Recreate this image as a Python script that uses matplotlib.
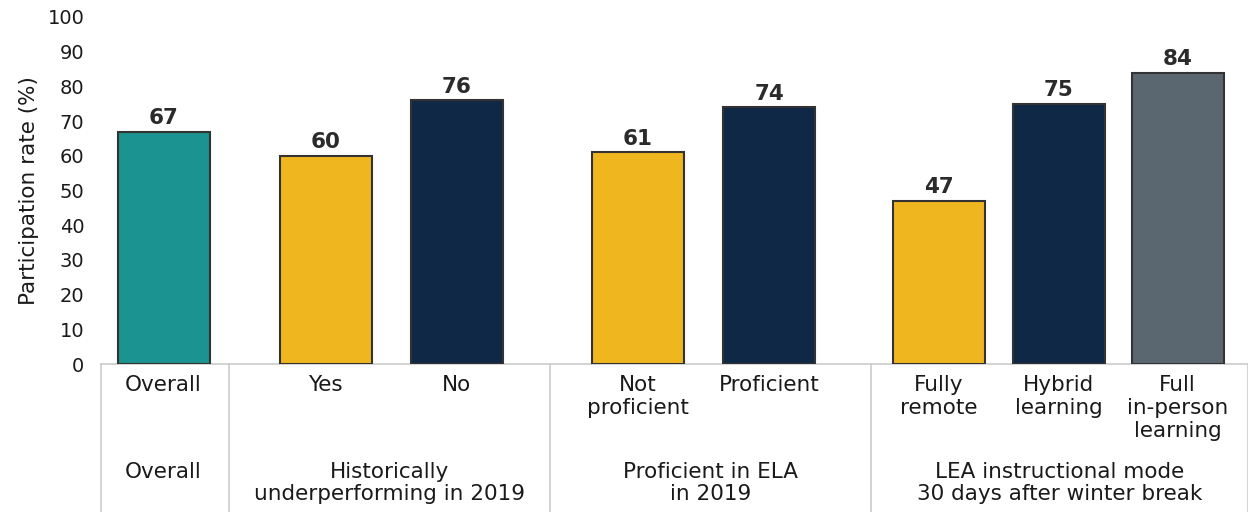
import matplotlib
matplotlib.use('Agg')
import matplotlib.pyplot as plt

# Data
sub_labels = ['Overall', 'Yes', 'No', 'Not\nproficient', 'Proficient',
              'Fully\nremote', 'Hybrid\nlearning', 'Full\nin-person\nlearning']
values = [67, 60, 76, 61, 74, 47, 75, 84]
group_labels = ['Overall', 'Historically\nunderperforming in 2019',
                'Proficient in ELA\nin 2019', 'LEA instructional mode\n30 days after winter break']

# Layout (x in pixel-like units along the axis)
positions = [163.5, 325.5, 457, 637.5, 769, 939, 1058.5, 1177.5]
separators = [101, 229, 550, 871, 1248]
colors = ['#1a9391', '#efb61f', '#0f2846', '#efb61f', '#0f2846',
          '#efb61f', '#0f2846', '#5b6770']

plt.rcParams['font.family'] = ['DejaVu Sans']

fig = plt.figure(figsize=(12.48, 5.12), dpi=100)
ax = fig.add_axes([101 / 1248, (512 - 364) / 512, 1 - 101 / 1248, 347 / 512])

ax.bar(positions, values, width=92, color=colors, edgecolor='#333333', linewidth=1.5, zorder=3)
for x, v in zip(positions, values):
    ax.text(x, v + 1.0, str(v), ha='center', va='bottom', fontsize=15.5,
            fontweight='bold', color='#2b2b2b')

ax.set_xlim(separators[0], separators[-1])
ax.set_ylim(0, 100)
ax.set_yticks(range(0, 101, 10))
ax.tick_params(axis='y', length=0, labelsize=14, pad=12, colors='#1a1a1a')
ax.set_xticks([])
ax.set_ylabel('Participation rate (%)', fontsize=15.5, color='#1a1a1a', labelpad=6)

for side in ['top', 'right', 'left']:
    ax.spines[side].set_visible(False)
ax.spines['bottom'].set_color('#cccccc')
ax.spines['bottom'].set_linewidth(1.2)

trans = ax.get_xaxis_transform()
for x, lab in zip(positions, sub_labels):
    ax.text(x, -0.031, lab, transform=trans, ha='center', va='top', fontsize=15.5,
            color='#1a1a1a', linespacing=1.18)

group_centers = [positions[0]] + [(separators[i] + separators[i + 1]) / 2 for i in range(1, 4)]
for x, lab in zip(group_centers, group_labels):
    ax.text(x, -0.283, lab, transform=trans, ha='center', va='top', fontsize=15.5,
            color='#1a1a1a', linespacing=1.12)

for x in separators:
    ax.plot([x, x], [0, -0.43], transform=trans, color='#cccccc', linewidth=1.2, clip_on=False)

fig.savefig('out.png', dpi=100)
